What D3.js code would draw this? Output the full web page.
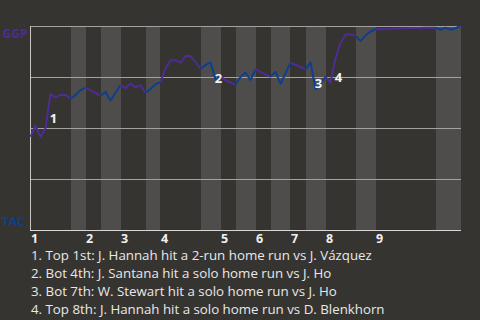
<!DOCTYPE html>
<html>
<head>
<meta charset="utf-8">
<script src="https://cdn.jsdelivr.net/npm/d3@7"></script>
<style>
  html, body { margin: 0; padding: 0; background: #363431; }
  svg { display: block; }
</style>
</head>
<body>
<div id="chart-container"></div>
<script>
// Innings labels and where each half inning starts (plate appearance index)
const innings = ["1", "2", "3", "4", "5", "6", "7", "8", "9"];
const halfBounds = [0, 8, 11, 14, 18, 23, 26, 34, 38, 41, 45, 48, 52, 55, 59, 65, 69, 81, 86];

// GGP win probability after each plate appearance
const winProb = [
  0.457, 0.511, 0.456, 0.499, 0.667, 0.650, 0.662, 0.663, 0.642,
  0.662, 0.686, 0.698,
  0.684, 0.672, 0.657,
  0.678, 0.634, 0.673, 0.711,
  0.695, 0.718, 0.699, 0.711, 0.673,
  0.691, 0.714, 0.725,
  0.793, 0.831, 0.833, 0.820, 0.853, 0.853, 0.825, 0.789,
  0.809, 0.821, 0.739, 0.755,
  0.733, 0.723, 0.714,
  0.750, 0.771, 0.735, 0.788,
  0.775, 0.762, 0.751,
  0.776, 0.716, 0.768, 0.820,
  0.809, 0.799, 0.789,
  0.822, 0.690, 0.719, 0.751,
  0.723, 0.842, 0.917, 0.958, 0.958, 0.953,
  0.926, 0.954, 0.973, 0.984,
  0.985, 0.984, 0.986, 0.987, 0.988, 0.989, 0.990, 0.990, 0.990, 0.991, 0.991, 0.992,
  0.981, 0.992, 0.981, 0.989, 1.000
];

// Home run events (plate appearance index) and the notes under the chart
const hrIndex = [4, 37, 57, 61];
const notes = [
  "1. Top 1st: J. Hannah hit a 2-run home run vs J. Vázquez",
  "2. Bot 4th: J. Santana hit a solo home run vs J. Ho",
  "3. Bot 7th: W. Stewart hit a solo home run vs J. Ho",
  "4. Top 8th: J. Hannah hit a solo home run vs D. Blenkhorn"
];
const teams = ["GGP", "TAC"];

const W = 480, H = 320;
const plot = { left: 30, right: 460, top: 26, bottom: 230 };
const awayColor = "#4d2c93";
const homeColor = "#0d3f8f";

const x = d3.scaleLinear().domain([0, winProb.length - 1]).range([plot.left + 0.5, plot.right + 0.5]);
const y = d3.scaleLinear().domain([0, 1]).range([plot.bottom, plot.top]);

const svg = d3.select("#chart-container")
    .append("svg")
    .attr("width", W)
    .attr("height", H);

svg.append("rect").attr("width", W).attr("height", H).attr("fill", "#363431");

// Shade bottom halves
const halves = d3.range(halfBounds.length - 1).map(i => ({
    start: halfBounds[i], end: halfBounds[i + 1], bottomHalf: i % 2 === 1
}));

svg.selectAll(".band")
    .data(halves.filter(d => d.bottomHalf))
    .join("rect")
    .attr("class", "band")
    .attr("x", d => Math.round(x(d.start)))
    .attr("width", d => Math.round(x(d.end)) - Math.round(x(d.start)))
    .attr("y", plot.top)
    .attr("height", plot.bottom - plot.top)
    .attr("fill", "#4e4d4b");

// Gridlines
svg.selectAll(".grid")
    .data([0.25, 0.5, 0.75, 1])
    .join("line")
    .attr("x1", plot.left)
    .attr("x2", plot.right + 1)
    .attr("y1", d => Math.round(y(d)) + 0.5)
    .attr("y2", d => Math.round(y(d)) + 0.5)
    .attr("stroke", "#a3a2a0")
    .attr("stroke-width", 1);

// Axes lines
svg.append("line")
    .attr("x1", plot.left + 0.5).attr("x2", plot.left + 0.5)
    .attr("y1", plot.top).attr("y2", plot.bottom + 1)
    .attr("stroke", "#c8c7c5");
svg.append("line")
    .attr("x1", plot.left).attr("x2", plot.right + 1)
    .attr("y1", plot.bottom + 0.5).attr("y2", plot.bottom + 0.5)
    .attr("stroke", "#d8d7d5");

// Win probability line, one path per half inning
const line = d3.line()
    .x(d => x(d.i))
    .y(d => y(d.p));

halves.forEach(h => {
    const pts = d3.range(h.start, h.end + 1).map(i => ({ i: i, p: winProb[i] }));
    svg.append("path")
        .datum(pts)
        .attr("fill", "none")
        .attr("stroke", h.bottomHalf ? homeColor : awayColor)
        .attr("stroke-width", 2)
        .attr("stroke-linejoin", "round")
        .attr("d", line);
});

// Home run markers
svg.selectAll(".hr")
    .data(hrIndex)
    .join("text")
    .attr("class", "hr")
    .attr("x", d => (x(d - 1) + x(d)) / 2 + 5.5)
    .attr("y", d => (y(winProb[d - 1]) + y(winProb[d])) / 2 + 7)
    .attr("text-anchor", "middle")
    .attr("dominant-baseline", "central")
    .attr("font-family", "'Open Sans', sans-serif")
    .attr("font-weight", "bold")
    .attr("font-size", 13)
    .attr("fill", "#f2f2f2")
    .text((d, i) => i + 1);

// Team labels
svg.append("text")
    .attr("x", 15).attr("y", y(1) + 7)
    .attr("dominant-baseline", "central")
    .attr("text-anchor", "middle")
    .attr("font-family", "'Open Sans', sans-serif")
    .attr("font-weight", "bold")
    .attr("font-size", 12)
    .attr("fill", awayColor)
    .text(teams[0]);
svg.append("text")
    .attr("x", 13.5).attr("y", y(0) - 9)
    .attr("dominant-baseline", "central")
    .attr("text-anchor", "middle")
    .attr("font-family", "'Open Sans', sans-serif")
    .attr("font-weight", "bold")
    .attr("font-size", 12)
    .attr("fill", homeColor)
    .text(teams[1]);

// Inning labels at the start of each top half
svg.selectAll(".inning")
    .data(innings)
    .join("text")
    .attr("class", "inning")
    .attr("x", (d, i) => x(halfBounds[i * 2]) + 0.5)
    .attr("y", 242.5)
    .attr("font-family", "'Open Sans', sans-serif")
    .attr("font-weight", "bold")
    .attr("font-size", 12.5)
    .attr("fill", "#f0f0f0")
    .text(d => d);

// Notes
svg.selectAll(".note")
    .data(notes)
    .join("text")
    .attr("class", "note")
    .attr("x", 31)
    .attr("y", (d, i) => 259.5 + i * 18)
    .attr("font-family", "'Open Sans', sans-serif")
    .attr("font-size", 13.3)
    .attr("fill", "#e8e8e8")
    .text(d => d);
</script>
</body>
</html>
